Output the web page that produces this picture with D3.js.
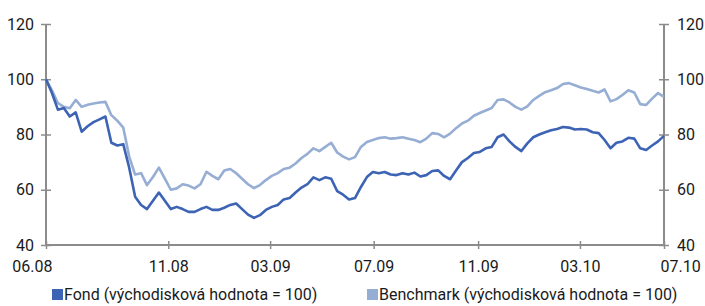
<!DOCTYPE html>
<html>
<head>
<meta charset="utf-8">
<script src="https://cdn.jsdelivr.net/npm/d3@7"></script>
<style>
  body { margin: 0; background: #fff; }
  svg text { font-family: Roboto, "Liberation Sans", sans-serif; fill: #1a1a1a; }
</style>
</head>
<body>
<div id="chart"></div>
<script>
// weekly values, start 10.6.2008
var startDate = new Date(2008, 5, 10);

var fond = [100, 95, 89, 89.6, 86.5, 88, 81, 83, 84.5, 85.5,
    86.5, 77, 76, 76.5, 68, 57.5, 54.5, 53, 56, 59,
    56, 53, 53.8, 53, 52, 52, 53, 53.8, 52.7, 52.7,
    53.5, 54.5, 55, 53, 51, 49.8, 50.8, 52.7, 53.8, 54.5,
    56.5, 57, 59, 60.8, 62, 64.5, 63.5, 64.5, 64, 59.5,
    58.2, 56.5, 57, 61, 64.6, 66.4, 66, 66.4, 65.5, 65.3,
    66, 65.5, 66.2, 64.8, 65.3, 66.8, 67, 65, 63.8, 67,
    70, 71.5, 73.3, 73.7, 75, 75.5, 79, 80, 77.5, 75.5,
    74, 76.8, 79, 80, 80.8, 81.5, 82, 82.7, 82.5, 81.8,
    82, 81.8, 80.8, 80.5, 78, 75, 77, 77.5, 78.8, 78.5,
    75, 74.4, 76, 77.5, 79.5];

var benchmark = [100, 96, 91.4, 90, 89.5, 92.5, 90, 90.8, 91.2, 91.6,
    91.8, 87, 85, 82.5, 72, 65.5, 66, 61.7, 64.6, 68,
    64, 60, 60.5, 62, 61.5, 60.5, 62, 66.5, 65, 63.8,
    67, 67.5, 66, 64, 62, 60.6, 61.7, 63.5, 65, 66,
    67.5, 68, 69.5, 71.5, 73, 75, 74, 75.5, 77, 73.5,
    72, 71, 71.8, 75.5, 77.3, 78, 78.7, 79, 78.5, 78.7,
    79, 78.5, 78, 77.2, 78.5, 80.5, 80.2, 79, 80.3, 82.3,
    84, 85, 86.8, 87.8, 88.7, 89.6, 92.5, 92.7, 91.6, 90,
    89, 90.2, 92.5, 94, 95.3, 96, 96.8, 98.3, 98.6, 97.8,
    97, 96.5, 95.8, 95.2, 96.3, 92, 92.8, 94.3, 96, 95.2,
    91, 90.7, 93, 95, 93.6];

var tickDates = ['2008-06-10', '2008-11-01', '2009-03-01', '2009-07-01', '2009-11-01', '2010-03-01', '2010-06-08'];
var tickLabels = ['06.08', '11.08', '03.09', '07.09', '11.09', '03.10', '07.10'];
var yTicks = [40, 60, 80, 100, 120];

var seriesNames = ['Fond (východisková hodnota = 100)', 'Benchmark (východisková hodnota = 100)'];
var fondColor = '#3d63b5';
var benchColor = '#96add4';

var width = 705, height = 306;
var margin = {left: 46, right: 41, top: 24, bottom: 61};

var svg = d3.select('#chart').append('svg')
    .attr('width', width)
    .attr('height', height);

var x = d3.scaleTime()
    .domain([startDate, d3.timeDay.offset(startDate, 7 * (fond.length - 1))])
    .range([margin.left, width - margin.right]);

var y = d3.scaleLinear()
    .domain([40, 120])
    .range([height - margin.bottom, margin.top]);

var parse = d3.timeParse('%Y-%m-%d');

function dateAt(i) {
    return d3.timeDay.offset(startDate, 7 * i);
}

// axes
var axisColor = '#8c8c8c';

var leftAxis = svg.append('g')
    .attr('transform', 'translate(' + margin.left + ',0)')
    .call(d3.axisLeft(y).tickValues(yTicks).tickSize(5).tickPadding(7));

var rightAxis = svg.append('g')
    .attr('transform', 'translate(' + (width - margin.right) + ',0)')
    .call(d3.axisRight(y).tickValues(yTicks).tickSize(5).tickPadding(8));

var bottomAxis = svg.append('g')
    .attr('transform', 'translate(0,' + (height - margin.bottom) + ')')
    .call(d3.axisBottom(x)
        .tickValues(tickDates.map(parse))
        .tickSize(4)
        .tickPadding(14)
        .tickFormat(function (d, i) { return tickLabels[i]; }));

[leftAxis, rightAxis, bottomAxis].forEach(function (g) {
    g.select('.domain')
        .attr('stroke', axisColor)
        .attr('stroke-width', 2);
    g.selectAll('.tick line')
        .attr('stroke', axisColor)
        .attr('stroke-width', 1.5);
    g.selectAll('.tick text')
        .attr('font-size', '16px')
        .attr('fill', '#1a1a1a');
});

// ticks cross the axis lines
leftAxis.selectAll('.tick line').attr('x1', 5);
rightAxis.selectAll('.tick line').attr('x1', -5);
bottomAxis.selectAll('.tick line').attr('y1', -4);
leftAxis.select('.domain').attr('d', 'M0,' + y(120) + 'V' + y(40));
rightAxis.select('.domain').attr('d', 'M0,' + y(120) + 'V' + y(40));
bottomAxis.select('.domain').attr('d', 'M' + margin.left + ',0H' + (width - margin.right));

// first and last date label sit outside the ends
bottomAxis.selectAll('.tick text')
    .attr('dy', '0.55em')
    .attr('text-anchor', function (d, i) {
        if (i == 0) return 'end';
        if (i == tickLabels.length - 1) return 'start';
        return 'middle';
    })
    .attr('dx', function (d, i) {
        if (i == 0) return 6;
        if (i == tickLabels.length - 1) return -4;
        return 0;
    });

var line = d3.line()
    .x(function (d, i) { return x(dateAt(i)); })
    .y(function (d) { return y(d); });

svg.append('path')
    .datum(benchmark)
    .attr('fill', 'none')
    .attr('stroke', benchColor)
    .attr('stroke-width', 2.6)
    .attr('stroke-linejoin', 'round')
    .attr('d', line);

svg.append('path')
    .datum(fond)
    .attr('fill', 'none')
    .attr('stroke', fondColor)
    .attr('stroke-width', 2.6)
    .attr('stroke-linejoin', 'round')
    .attr('d', line);

// legend
var legendX = [52, 367];
var legend = svg.append('g')
    .selectAll('g')
    .data(seriesNames)
    .enter()
    .append('g')
    .attr('transform', function (d, i) {
        return 'translate(' + legendX[i] + ',289)';
    });

legend.append('rect')
    .attr('width', 11)
    .attr('height', 11)
    .attr('fill', function (d, i) { return i == 0 ? fondColor : benchColor; });

legend.append('text')
    .attr('x', 12)
    .attr('y', 11)
    .attr('font-size', '16px')
    .text(function (d) { return d; });
</script>
</body>
</html>
